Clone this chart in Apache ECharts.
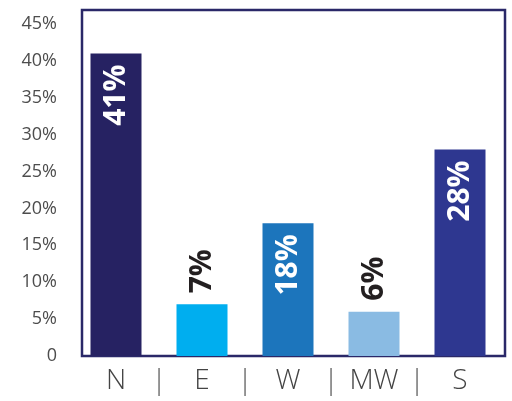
<!DOCTYPE html>
<html>
<head>
<meta charset="utf-8">
<style>
  html, body { margin: 0; padding: 0; background: #ffffff; }
  #chart { width: 512px; height: 401px; }
</style>
<script src="https://cdn.jsdelivr.net/npm/echarts@6/dist/echarts.min.js"></script>
</head>
<body>
<div id="chart"></div>
<script>
// Regional shares (percent)
const regions = ['N', 'E', 'W', 'MW', 'S'];
const shares = [41, 7, 18, 6, 28];
const yMin = 0, yMax = 45, yStep = 5;

// Styling
const regionColors = { N: '#262262', E: '#00aeef', W: '#1c75bc', MW: '#8abbe3', S: '#2e3790' };
const labelAbove = ['E', 'MW'];
const frameColor = '#2a2868';
const FONT = '"Open Sans", "DejaVu Sans", sans-serif';

const barData = regions.map((r, i) => {
  const above = labelAbove.includes(r);
  return {
    value: shares[i],
    itemStyle: { color: regionColors[r] },
    label: above
      ? { position: 'top', distance: 11, align: 'left', verticalAlign: 'middle',
          color: '#231f20', fontWeight: 'bold', fontSize: 30 }
      : { position: 'insideTop', distance: 11, align: 'right', verticalAlign: 'middle',
          color: '#ffffff', fontWeight: 'bold', fontSize: 30 }
  };
});

// separators sit on the band boundaries between regions
const separators = [''].concat(regions.slice(1).map(() => '|'), ['']);

const chart = echarts.init(document.getElementById('chart'), null, { renderer: 'canvas' });
chart.setOption({
  animation: false,
  backgroundColor: '#ffffff',
  grid: [
    { left: 73, right: 9, top: 24, bottom: 45 },
    { left: 82, right: 7, top: 10, bottom: 45, show: true,
      borderColor: frameColor, borderWidth: 2.5, backgroundColor: 'transparent' }
  ],
  xAxis: [
    { type: 'category', gridIndex: 0, data: regions, position: 'bottom',
      axisLine: { show: false }, axisTick: { show: false },
      axisLabel: { color: '#444444', fontFamily: FONT, fontWeight: 300, fontSize: 28, margin: 11 } },
    { type: 'category', gridIndex: 0, data: separators, boundaryGap: false, position: 'bottom',
      axisLine: { show: false }, axisTick: { show: false },
      axisLabel: { color: '#555555', fontFamily: FONT, fontWeight: 300, fontSize: 28, margin: 11, interval: 0 } },
    { type: 'category', gridIndex: 1, show: false, data: regions }
  ],
  yAxis: [
    { type: 'value', gridIndex: 0, min: yMin, max: yMax, interval: yStep,
      axisLine: { show: false }, axisTick: { show: false }, splitLine: { show: false },
      axisLabel: { color: '#4d4d4d', fontFamily: FONT, fontSize: 18, margin: 16,
        padding: [0, 0, 6, 0],
        formatter: v => (v === 0 ? '0' : v + '%') } },
    { type: 'value', gridIndex: 1, show: false, min: 0, max: 1 }
  ],
  series: [
    { type: 'bar', xAxisIndex: 0, yAxisIndex: 0, barWidth: 51, data: barData,
      label: { show: true, rotate: 90, fontFamily: FONT, formatter: '{c}%' } }
  ]
});
</script>
</body>
</html>
